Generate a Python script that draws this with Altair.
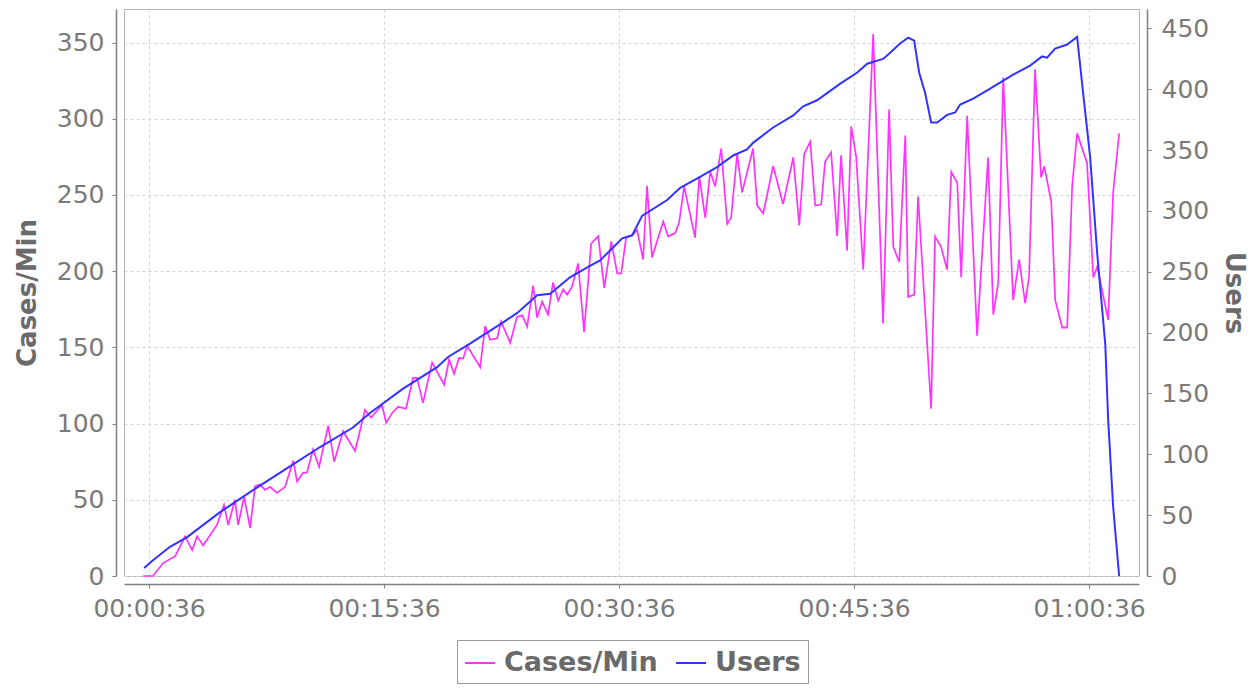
import altair as alt
import pandas as pd

# ---- data (time in seconds since 00:00:00) ----
cases_t = [13, 51, 90, 136, 174, 201, 220, 243, 296, 323, 339, 365, 377, 400, 423, 442, 461, 480, 499, 526,
           557, 588, 603, 626, 641, 664, 687, 722, 745, 779, 825, 863, 886, 928, 944, 967, 990, 1020, 1047, 1062,
           1085, 1120, 1166, 1185, 1204, 1223, 1239, 1254, 1304, 1323, 1342, 1369, 1384, 1419, 1445, 1465, 1484, 1507, 1522, 1541,
           1564, 1583, 1603, 1622, 1637, 1656, 1679, 1702, 1729, 1756, 1779, 1806, 1829, 1844, 1863, 1890, 1905, 1928, 1943, 1962,
           2005, 2024, 2051, 2066, 2085, 2127, 2143, 2166, 2185, 2204, 2227, 2250, 2265, 2288, 2307, 2349, 2365, 2388, 2426, 2464,
           2503, 2526, 2545, 2568, 2587, 2610, 2625, 2648, 2671, 2686, 2709, 2725, 2744, 2771, 2809, 2847, 2870, 2886, 2909, 2932,
           2943, 2966, 2981, 3031, 3046, 3069, 3092, 3108, 3131, 3146, 3169, 3207, 3249, 3269, 3288, 3307, 3345, 3368, 3391, 3406,
           3429, 3452, 3464, 3491, 3506, 3533, 3552, 3571, 3590, 3628, 3652, 3667, 3709, 3728, 3751]
cases_v = [0, 0, 8.5, 13, 26, 17, 26, 20, 33.5, 46.6, 33.5, 50, 33.5, 52, 31.5, 59, 60, 56.5, 58.5, 54.5,
           58.5, 75.6, 62, 67.7, 68, 83, 71.6, 98.6, 75, 95, 82, 109, 104, 112, 100.5, 107, 111, 109.7, 130, 130,
           113.6, 140, 125.5, 142, 132.7, 143, 142.6, 151, 137, 164, 155, 156, 167, 153, 170, 171, 163.6, 190.5, 169.5, 180,
           171.5, 192.5, 180.7, 188, 184.6, 190, 205, 160, 218, 223, 189, 219.5, 198.5, 198.5, 222, 224, 227, 207.6, 256, 209,
           232.6, 222.7, 225, 232, 255.6, 222, 262, 235, 265.4, 255.6, 280.5, 231, 235, 277, 251.6, 280.5, 243, 237.8, 269, 244,
           274.6, 230, 277, 285, 243, 243.7, 272, 278, 223, 276, 213.5, 295, 275, 201, 355.5, 165.6, 306, 216, 206, 289,
           183, 184.6, 249, 109.7, 222.7, 216, 201, 265, 258, 195.8, 302, 157.7, 274.6, 171.5, 192.5, 327, 181, 207.6, 179, 196.4,
           332.4, 261.5, 268.7, 245.7, 181, 163, 163, 255.6, 290.4, 271, 195.8, 203, 168, 251.6, 290.4]

users_t = [17, 51, 116, 182, 308, 434, 565, 691, 817, 882, 1009, 1139, 1181, 1265, 1392, 1445, 1522, 1572, 1648, 1714,
           1763, 1813, 1848, 1886, 1924, 2020, 2070, 2146, 2211, 2273, 2326, 2349, 2426, 2503, 2541, 2594, 2683, 2748, 2786, 2847,
           2874, 2912, 2943, 2966, 2985, 3008, 3031, 3054, 3092, 3123, 3142, 3192, 3257, 3345, 3410, 3456, 3475, 3506, 3552, 3590,
           3613, 3640, 3667, 3698, 3709, 3728, 3751]
users_v = [6.6, 13, 24, 32, 52.5, 70.6, 88.7, 106, 122, 134, 154, 171.6, 180, 191, 208.5, 216, 230.7, 232, 245.5, 253.7,
           259.4, 270, 277.5, 280, 296, 309, 319, 328, 336, 345.6, 350.5, 356, 368.6, 378.5, 386, 391, 404.7, 413.8, 421, 425,
           430, 437.6, 442.5, 440, 413.8, 397, 372.7, 372.7, 379, 381, 387.5, 392.4, 400.6, 412, 419.5, 427, 426, 433.5, 436.8, 443,
           397, 344, 265, 190, 128, 57, 0]

SERIES = ["Cases/Min", "Users"]
COLORS = ["#ff33ff", "#3333ff"]
x_ticks = [36, 936, 1836, 2736, 3636]
left_ticks = [0, 50, 100, 150, 200, 250, 300, 350]
right_ticks = [0, 50, 100, 150, 200, 250, 300, 350, 400, 450]

cases_df = pd.DataFrame({"t": cases_t, "v": cases_v, "s": SERIES[0]})
users_df = pd.DataFrame({"t": users_t, "v": users_v, "s": SERIES[1]})

FONT = "DejaVu Sans"

xenc = alt.X(
    "t:Q",
    scale=alt.Scale(domain=[-60, 3827], nice=False, zero=False),
    axis=alt.Axis(values=x_ticks, labelExpr="utcFormat(datum.value * 1000, '%H:%M:%S')",
                  title=None, grid=True, offset=8, labelPadding=8),
)
color = alt.Color(
    "s:N",
    scale=alt.Scale(domain=SERIES, range=COLORS),
    legend=alt.Legend(
        title=None, orient="none", legendX=333, legendY=631, direction="horizontal",
        symbolType="stroke", symbolSize=900, symbolStrokeWidth=2,
        labelFont=FONT, labelFontSize=27, labelFontWeight="bold", labelColor="#6a6a6a",
        strokeColor="#999999", padding=7, columnPadding=14, labelOffset=8, labelLimit=400,
    ),
)

users = alt.Chart(users_df).mark_line(strokeWidth=2).encode(
    x=xenc,
    y=alt.Y("v:Q", scale=alt.Scale(domain=[0, 466], nice=False),
            axis=alt.Axis(title="Users", values=right_ticks, grid=False, orient="right",
                          offset=8, labelPadding=10, titlePadding=12)),
    color=color,
)
cases = alt.Chart(cases_df).mark_line(strokeWidth=1.7).encode(
    x=xenc,
    y=alt.Y("v:Q", scale=alt.Scale(domain=[0, 372], nice=False),
            axis=alt.Axis(title="Cases/Min", values=left_ticks, grid=True, orient="left",
                          offset=8, labelPadding=8, titlePadding=16)),
    color=color,
)

chart = (
    alt.layer(cases, users)
    .resolve_scale(y="independent")
    .properties(
        width=1015, height=567,
        autosize=alt.AutoSizeParams(type="none"),
        padding={"left": 116, "top": 1, "right": 112, "bottom": 110},
        background="white",
    )
    .configure_view(stroke="#b4b4b4", strokeWidth=1)
    .configure_axis(
        domainColor="#808080", domainWidth=1.5, tickColor="#808080", tickSize=4,
        labelFont=FONT, labelFontSize=25, labelColor="#7a7a7a",
        titleFont=FONT, titleFontSize=26, titleFontWeight="bold", titleColor="#6a6a6a",
        gridColor="#d4d4d4", gridDash=[3, 3], gridWidth=1,
    )
)

chart.save("out.html", embed_options={"renderer": "svg", "actions": False})
